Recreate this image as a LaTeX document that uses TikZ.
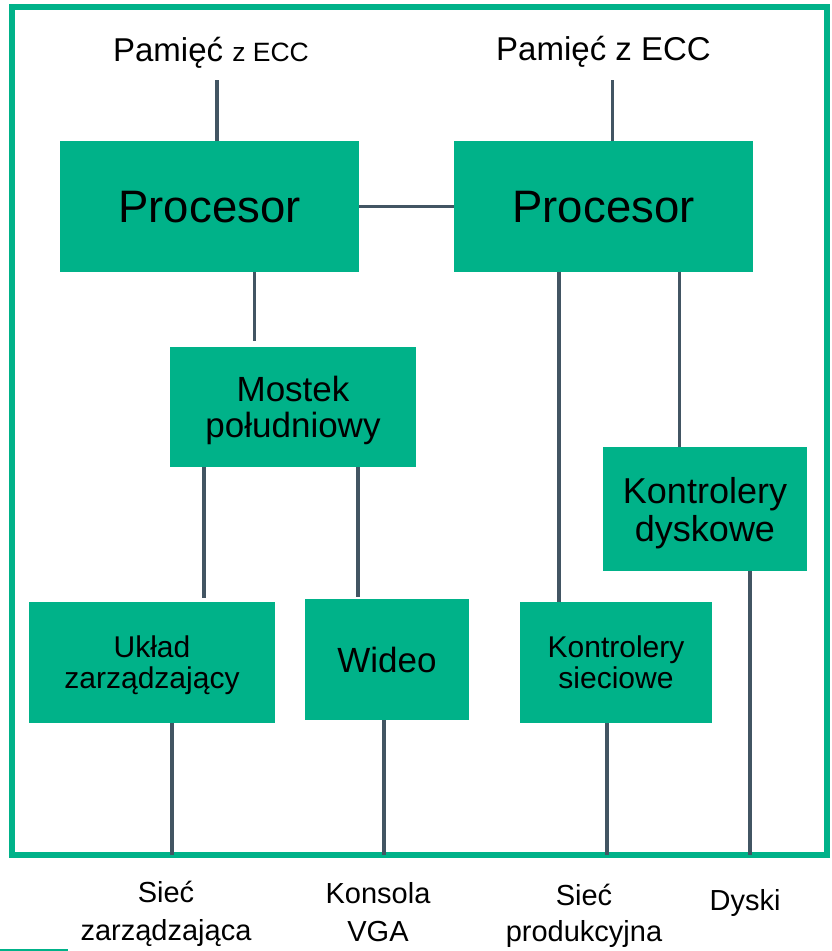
\documentclass[tikz,border=0pt]{standalone}
\usepackage{fontspec}
\setmainfont{Liberation Sans}
\definecolor{boxgreen}{RGB}{0,178,137}
\definecolor{wiregray}{RGB}{66,85,99}
\newcommand{\fs}[2]{\fontsize{#1}{#2}\selectfont}
\begin{document}
\begin{tikzpicture}[x=1pt,y=-1pt,
  unit/.style={fill=boxgreen, inner sep=0pt, align=center, text depth=0pt},
  wire/.style={draw=wiregray, line width=3.8pt},
  caption/.style={inner sep=0pt, align=center, anchor=base}]
\useasboundingbox (0,0) rectangle (831,951);

% outer frame of the server board
\draw[boxgreen, line width=6pt] (12,7) rectangle (827,855);
\draw[boxgreen, line width=1.5pt] (0,950) -- (68,950);

% memory captions
\node[caption] (mem1) at (211,61.5) {\fs{33}{36}Pamięć \fs{26.5}{30}z ECC};
\node[caption] (mem2) at (603.5,60) {\fs{33}{36}Pamięć z ECC};

% functional blocks
\node[unit, minimum width=299pt, minimum height=131pt, font=\fs{45.5}{48}] (cpu1) at (209.5,206.5) {Procesor};
\node[unit, minimum width=299pt, minimum height=131pt, font=\fs{45.5}{48}] (cpu2) at (603.5,206.5) {Procesor};
\node[unit, minimum width=246pt, minimum height=120pt, font=\fs{35}{36}] (sb) at (293,407) {Mostek\\południowy};
\node[unit, minimum width=246pt, minimum height=121pt, font=\fs{30}{31}] (mgmt) at (152,662.5) {Układ\\zarządzający};
\node[unit, minimum width=164pt, minimum height=121pt, font=\fs{35}{38}] (video) at (387,659.5) {Wideo};
\node[unit, minimum width=192pt, minimum height=121pt, font=\fs{30}{31}] (nic) at (616,662.5) {Kontrolery\\sieciowe};
\node[unit, minimum width=204pt, minimum height=124pt, font=\fs{36}{38}] (disk) at (705,509) {Kontrolery\\dyskowe};

% external captions below the frame (anchored on the last baseline)
\node[caption, font=\fs{29}{38}] (net1) at (166,940) {Sieć\\zarządzająca};
\node[caption, font=\fs{29}{38}] (vga) at (378,941.5) {Konsola\\VGA};
\node[caption, font=\fs{29}{36}] (net2) at (584,941.5) {Sieć\\produkcyjna};
\node[caption, font=\fs{29}{36}] (drv) at (745,910.5) {Dyski};

% free ends of the wires
\coordinate (m1) at (217,80);
\coordinate (m2) at (612.5,80);
\coordinate (e1) at (172,855);
\coordinate (e2) at (384,855);
\coordinate (e3) at (607,855);
\coordinate (e4) at (750,855);

% buses
\draw[wire] (m1) -- (m1 |- cpu1.north);
\draw[wire] (m2) -- (m2 |- cpu2.north);
\draw[wire] (cpu1.east) -- (cpu2.west);
\draw[wire, shorten >=6pt] (cpu1.south -| 254.5,0) -- (sb.north -| 254.5,0);
\draw[wire, shorten >=4pt] (sb.south -| 204,0) -- (mgmt.north -| 204,0);
\draw[wire, shorten >=2pt] (sb.south -| 358,0) -- (video.north -| 358,0);
\draw[wire] (cpu2.south -| 559,0) -- (nic.north -| 559,0);
\draw[wire] (cpu2.south -| 679.5,0) -- (disk.north -| 679.5,0);
\draw[wire] (mgmt.south -| e1) -- (e1);
\draw[wire] (video.south -| e2) -- (e2);
\draw[wire] (nic.south -| e3) -- (e3);
\draw[wire] (disk.south -| e4) -- (e4);
\end{tikzpicture}
\end{document}
